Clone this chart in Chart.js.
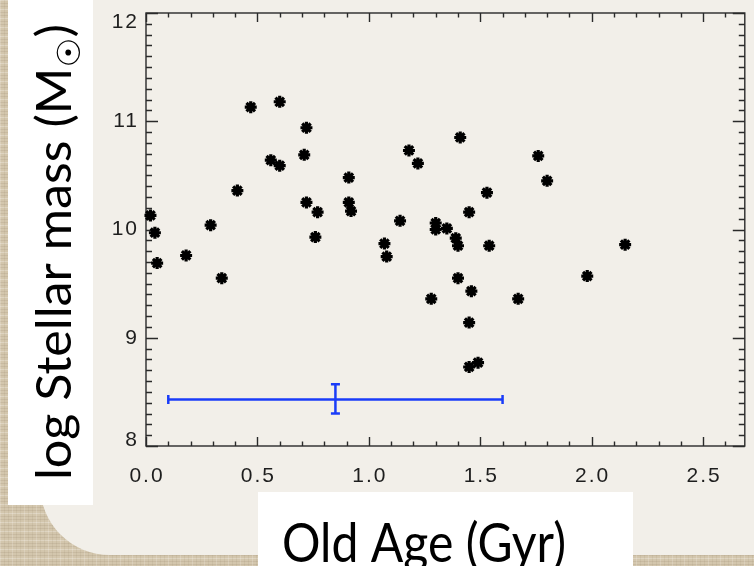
<!DOCTYPE html>
<html>
<head>
<meta charset="utf-8">
<script src="https://cdn.jsdelivr.net/npm/chart.js@4.4.1/dist/chart.umd.min.js"></script>
<style>
    html, body { margin: 0; padding: 0; background: #d4c8b1; overflow: hidden; }
</style>
</head>
<body>
<canvas id="chart1" width="754" height="566"></canvas>
<script>
// old age (Gyr) vs log stellar mass
const ages = [0.02, 0.04, 0.05, 0.18, 0.34, 0.29, 0.41, 0.47, 0.60, 0.56, 0.60,
    0.72, 0.71, 0.72, 0.77, 0.76, 0.91, 0.91, 0.92, 1.07, 1.08, 1.14,
    1.18, 1.22, 1.30, 1.30, 1.35, 1.39, 1.40, 1.40, 1.41, 1.28, 1.45,
    1.46, 1.45, 1.45, 1.49, 1.53, 1.54, 1.67, 1.76, 1.80, 1.98, 2.15];
const masses = [10.13, 9.97, 9.69, 9.76, 9.55, 10.04, 10.36, 11.13, 11.18, 10.64, 10.59,
    10.94, 10.69, 10.25, 10.16, 9.93, 10.48, 10.25, 10.17, 9.87, 9.75, 10.08,
    10.73, 10.61, 10.06, 10.00, 10.01, 9.92, 9.85, 9.55, 10.85, 9.36, 10.16,
    9.43, 9.14, 8.73, 8.77, 10.34, 9.85, 9.36, 10.68, 10.45, 9.57, 9.86];

// typical error bar
const errCenter = [0.85, 8.43];
const errAge = [0.10, 1.60];
const errMass = [8.30, 8.57];

const xTicks = [0, 0.5, 1.0, 1.5, 2.0, 2.5];
const yTicks = [8, 9, 10, 11, 12];

const xTitle = 'Old Age (Gyr)';
const yTitle = 'log Stellar mass (M';
const ySub = '\u2609';

const slidePlugin = {
    id: 'slide',
    beforeDraw(chart) {
        const ctx = chart.ctx;
        ctx.save();
        // burlap
        ctx.fillStyle = '#d3c6ad';
        ctx.fillRect(0, 0, 754, 566);
        ctx.lineWidth = 1;
        for (let i = 0; i < 566; i += 3) {
            ctx.strokeStyle = (i % 9 === 0) ? 'rgba(255,255,255,0.25)' : 'rgba(120,100,70,0.12)';
            ctx.beginPath(); ctx.moveTo(0, i + 0.5); ctx.lineTo(754, i + 0.5); ctx.stroke();
        }
        for (let i = 0; i < 754; i += 4) {
            ctx.strokeStyle = (i % 12 === 0) ? 'rgba(255,255,255,0.18)' : 'rgba(120,100,70,0.08)';
            ctx.beginPath(); ctx.moveTo(i + 0.5, 0); ctx.lineTo(i + 0.5, 566); ctx.stroke();
        }
        // paper
        ctx.fillStyle = '#f2efe9';
        ctx.beginPath();
        ctx.roundRect(40, -100, 800, 655, 70);
        ctx.fill();
        // white label boxes
        ctx.fillStyle = '#ffffff';
        ctx.fillRect(8, 0, 85, 505);
        ctx.fillRect(258, 492, 375, 80);
        ctx.restore();
    },
    beforeDatasetsDraw(chart) {
        const { ctx, chartArea: a, scales: { x, y } } = chart;
        ctx.save();
        ctx.strokeStyle = '#2a2a2a';
        ctx.lineWidth = 1.4;
        ctx.strokeRect(a.left, a.top, a.right - a.left, a.bottom - a.top);
        ctx.beginPath();
        for (let i = 0; i <= 30; i++) {
            const v = i / 10;
            if (v > x.max) break;
            const px = Math.round(x.getPixelForValue(v)) + 0.5;
            const len = i % 5 === 0 ? 9 : 4.5;
            ctx.moveTo(px, a.bottom); ctx.lineTo(px, a.bottom - len);
            ctx.moveTo(px, a.top); ctx.lineTo(px, a.top + len);
        }
        for (let i = 0; i <= 40; i++) {
            const v = 8 + i / 10;
            const py = Math.round(y.getPixelForValue(v)) + 0.5;
            const len = i % 10 === 0 ? 12 : 6;
            ctx.moveTo(a.left, py); ctx.lineTo(a.left + len, py);
            ctx.moveTo(a.right, py); ctx.lineTo(a.right - len, py);
        }
        ctx.stroke();

        // tick labels
        ctx.fillStyle = '#1e1e1e';
        ctx.font = '21px "Liberation Sans"';
        ctx.letterSpacing = '2px';
        ctx.textAlign = 'center';
        ctx.textBaseline = 'middle';
        xTicks.forEach(v => {
            ctx.fillText(v.toFixed(1), x.getPixelForValue(v) + 1, 476);
        });
        ctx.textAlign = 'right';
        yTicks.forEach(v => {
            let py = y.getPixelForValue(v);
            if (v === y.max) py += 9;
            if (v === y.min) py -= 6;
            ctx.fillText(String(v), 139, py);
        });
        ctx.restore();
    },
    afterDraw(chart) {
        const ctx = chart.ctx;
        ctx.save();
        ctx.fillStyle = '#000';
        ctx.textBaseline = 'alphabetic';

        // x title
        ctx.font = '55px Lato';
        let w = ctx.measureText(xTitle).width;
        ctx.translate(282, 562);
        ctx.scale(284 / w, 1);
        ctx.fillText(xTitle, 0, 0);
        ctx.restore();

        // y title, rotated, with sun symbol subscript
        ctx.save();
        ctx.fillStyle = '#000';
        ctx.font = '48px Lato';
        const w1 = ctx.measureText(yTitle).width;
        ctx.font = '32px "DejaVu Sans"';
        const w2 = ctx.measureText(ySub).width;
        ctx.font = '48px Lato';
        const w3 = ctx.measureText(')').width;
        const sx = 456 / (w1 + w2 + w3);
        ctx.translate(71, 480);
        ctx.rotate(-Math.PI / 2);
        ctx.scale(sx, 1);
        ctx.fillText(yTitle, 0, 0);
        ctx.font = '32px "DejaVu Sans"';
        ctx.fillText(ySub, w1, 9);
        ctx.font = '48px Lato';
        ctx.fillText(')', w1 + w2, 0);
        ctx.restore();
    }
};

const points = ages.map((a, i) => ({ x: a, y: masses[i] }));

const data = {
    datasets: [
        {
            label: 'galaxies',
            data: points,
            pointStyle: 'star',
            pointRadius: 6,
            pointBorderWidth: 3.2,
            borderColor: '#000',
            backgroundColor: '#000',
            clip: false
        },
        {
            label: 'age error',
            data: [{ x: errAge[0], y: errCenter[1] }, { x: errAge[1], y: errCenter[1] }],
            showLine: true,
            borderColor: '#1a3cf8',
            borderWidth: 2.5,
            pointStyle: 'line',
            pointRotation: 90,
            pointRadius: 4.5,
            pointBorderWidth: 2.5,
            pointBorderColor: '#1a3cf8'
        },
        {
            label: 'mass error',
            data: [{ x: errCenter[0], y: errMass[0] }, { x: errCenter[0], y: errMass[1] }],
            showLine: true,
            borderColor: '#1a3cf8',
            borderWidth: 2.5,
            pointStyle: 'line',
            pointRotation: 0,
            pointRadius: 4.5,
            pointBorderWidth: 2.5,
            pointBorderColor: '#1a3cf8'
        }
    ]
};

const config = {
    type: 'scatter',
    data: data,
    options: {
        responsive: false,
        animation: false,
        devicePixelRatio: 1,
        layout: { padding: { top: 13, right: 0, bottom: 0, left: 0 } },
        plugins: {
            legend: { display: false },
            tooltip: { enabled: false }
        },
        scales: {
            x: {
                type: 'linear',
                min: 0,
                max: 2.687,
                grid: { display: false },
                border: { display: false },
                ticks: { display: false },
                afterBuildTicks: (scale) => { scale.ticks = xTicks.map(v => ({ value: v })); },
                afterFit: (scale) => { scale.height = 120; }
            },
            y: {
                type: 'linear',
                min: 8,
                max: 12,
                grid: { display: false },
                border: { display: false },
                ticks: { display: false },
                afterBuildTicks: (scale) => { scale.ticks = yTicks.map(v => ({ value: v })); },
                afterFit: (scale) => { scale.width = 146; }
            }
        }
    },
    plugins: [slidePlugin]
};

const chart1 = new Chart(document.getElementById('chart1'), config);
</script>
</body>
</html>
